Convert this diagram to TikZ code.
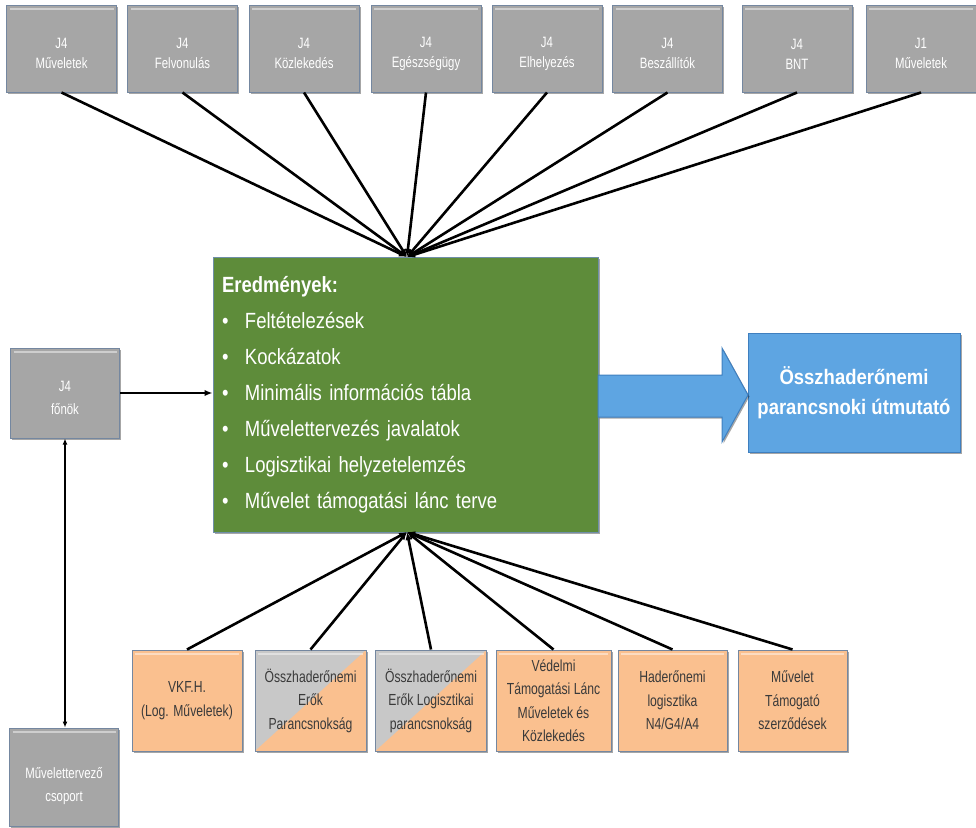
\documentclass[tikz,border=0pt]{standalone}
\usepackage{fontspec}
\setmainfont{Liberation Sans}
\newfontfamily\narf[FakeStretch=0.76]{Liberation Sans}
\newfontfamily\greenf[FakeStretch=0.84]{Liberation Sans}
\newfontfamily\bluef[FakeStretch=0.88]{Liberation Sans}
\usetikzlibrary{arrows.meta,shadows}
\definecolor{boxgray}{HTML}{A6A6A6}
\definecolor{splitgray}{HTML}{C8C8C8}
\definecolor{bordergray}{HTML}{7487A0}
\definecolor{boxorange}{HTML}{FAC08F}
\definecolor{boxgreen}{HTML}{5E8C3A}
\definecolor{greenborder}{HTML}{6F8FA8}
\definecolor{boxblue}{HTML}{5EA5E2}
\definecolor{blueborder}{HTML}{3F7FBF}
\definecolor{darktext}{HTML}{3A3A3A}
\newcommand{\bulitem}{\makebox[23pt][l]{\textbullet}}
\newcommand{\downstrut}[1]{\rule{0pt}{#1}}
\begin{document}
\begin{tikzpicture}[x=1pt,y=-1pt,
  myshadow/.style={drop shadow={shadow xshift=1.5pt,shadow yshift=-1.5pt,fill=black,opacity=0.35}},
  hilite/.style={path picture={\draw[white,opacity=0.45,line width=2pt]
     ([xshift=3pt,yshift=-4pt]path picture bounding box.north west) --
     ([xshift=-3pt,yshift=-4pt]path picture bounding box.north east);}},
  basebox/.style={rectangle,draw=bordergray,line width=1pt,align=center,inner sep=2pt,myshadow},
  topbox/.style={basebox,hilite,fill=boxgray,text=white,minimum width=110pt,minimum height=87pt,
     font=\narf\fontsize{15}{20}\selectfont},
  sidebox/.style={basebox,hilite,fill=boxgray,text=white,minimum width=109pt,
     font=\narf\fontsize{15}{23}\selectfont},
  orbox/.style={basebox,hilite,fill=boxorange,text=darktext,minimum width=110pt,minimum height=101pt,
     font=\narf\fontsize{16}{23.5}\selectfont},
  splitbox/.style={basebox,fill=splitgray,text=darktext,minimum width=111pt,minimum height=101pt,
     font=\narf\fontsize{16}{23.5}\selectfont,
     path picture={\fill[boxorange] (path picture bounding box.south west) --
        (path picture bounding box.north east) -- (path picture bounding box.south east) -- cycle;
        \draw[white,opacity=0.45,line width=2pt]
        ([xshift=3pt,yshift=-4pt]path picture bounding box.north west) --
        ([xshift=-3pt,yshift=-4pt]path picture bounding box.north east);}},
  greenbox/.style={rectangle,fill=boxgreen,draw=greenborder,line width=1pt,myshadow,
     text=white,align=left,text width=367pt,inner xsep=9pt,minimum height=275pt,
     font=\greenf\fontsize{22}{36}\selectfont},
  bluebox/.style={rectangle,fill=boxblue,draw=blueborder,line width=1pt,myshadow,
     text=white,align=center,minimum width=212pt,minimum height=119pt,
     font=\bluef\bfseries\fontsize{21}{30}\selectfont},
  conn/.style={line width=2.6pt,-{Latex[length=8pt,width=6.5pt]}},
  dconn/.style={line width=1.8pt,{Latex[length=6pt,width=5pt]}-{Latex[length=6pt,width=5pt]}},
  bigarrow/.style={fill=boxblue,draw=blueborder,line width=1pt,myshadow}
]
\useasboundingbox (0,0) rectangle (976,827);

% top row
\node[topbox] (t1) at (61.5,48.5) {\downstrut{21pt}J4\\Műveletek};
\node[topbox] (t2) at (182.5,48.5) {\downstrut{21pt}J4\\Felvonulás};
\node[topbox] (t3) at (304,48.5) {\downstrut{21pt}J4\\Közlekedés};
\node[topbox] (t4) at (426,48.5) {\downstrut{21pt}J4\\Egészségügy};
\node[topbox] (t5) at (547,48.5) {\downstrut{21pt}J4\\Elhelyezés};
\node[topbox] (t6) at (667.5,48.5) {\downstrut{21pt}J4\\Beszállítók};
\node[topbox] (t7) at (797,48.5) {\downstrut{21pt}J4\\BNT};
\node[topbox] (t8) at (921,48.5) {\downstrut{21pt}J1\\Műveletek};

% central result box
\node[greenbox] (res) at (405.5,394.5) {\textbf{Eredmények:}\\
\bulitem Feltételezések\\
\bulitem Kockázatok\\
\bulitem Minimális információs tábla\\
\bulitem Művelettervezés javalatok\\
\bulitem Logisztikai helyzetelemzés\\
\bulitem Művelet támogatási lánc terve};

% output
\node[bluebox] (guide) at (854,392.5) {Összhaderőnemi\\parancsnoki útmutató};
\draw[bigarrow] (598,375) -- (722,375) -- (722,348) -- (748,395) -- (722,442) -- (722,417) -- (598,417) -- cycle;

% left column
\node[sidebox,minimum height=90pt] (fonok) at (65,393) {\downstrut{21pt}J4\\főnök};
\node[sidebox,minimum height=98pt] (csop) at (64,777) {\downstrut{30pt}Művelettervező\\csoport};

% bottom row
\node[orbox] (b1) at (187,700.5) {VKF.H.\\(Log. Műveletek)};
\node[splitbox] (b2) at (310.5,700.5) {Összhaderőnemi\\Erők\\Parancsnokság};
\node[splitbox] (b3) at (431,700.5) {Összhaderőnemi\\Erők Logisztikai\\parancsnokság};
\node[orbox,minimum width=115pt] (b4) at (553.5,700.5) {Védelmi\\Támogatási Lánc\\Műveletek és\\Közlekedés};
\node[orbox,minimum width=109pt] (b5) at (672.5,700.5) {Haderőnemi\\logisztika\\N4/G4/A4};
\node[orbox,minimum width=109pt] (b6) at (792.5,700.5) {Művelet\\Támogató\\szerződések};

% connectors
\coordinate (intop) at (407,257);
\coordinate (inbot) at (407,532);
\foreach \n in {t1,t2,t3,t4,t5,t6,t7,t8} \draw[conn] (\n.south) -- (intop);
\foreach \n in {b1,b2,b3,b4,b5,b6} \draw[conn] (\n.north) -- (inbot);
\draw[conn] (fonok.east) -- (fonok.east -| res.west);
\draw[dconn] (fonok.south) -- (fonok.south |- csop.north);
\end{tikzpicture}
\end{document}
